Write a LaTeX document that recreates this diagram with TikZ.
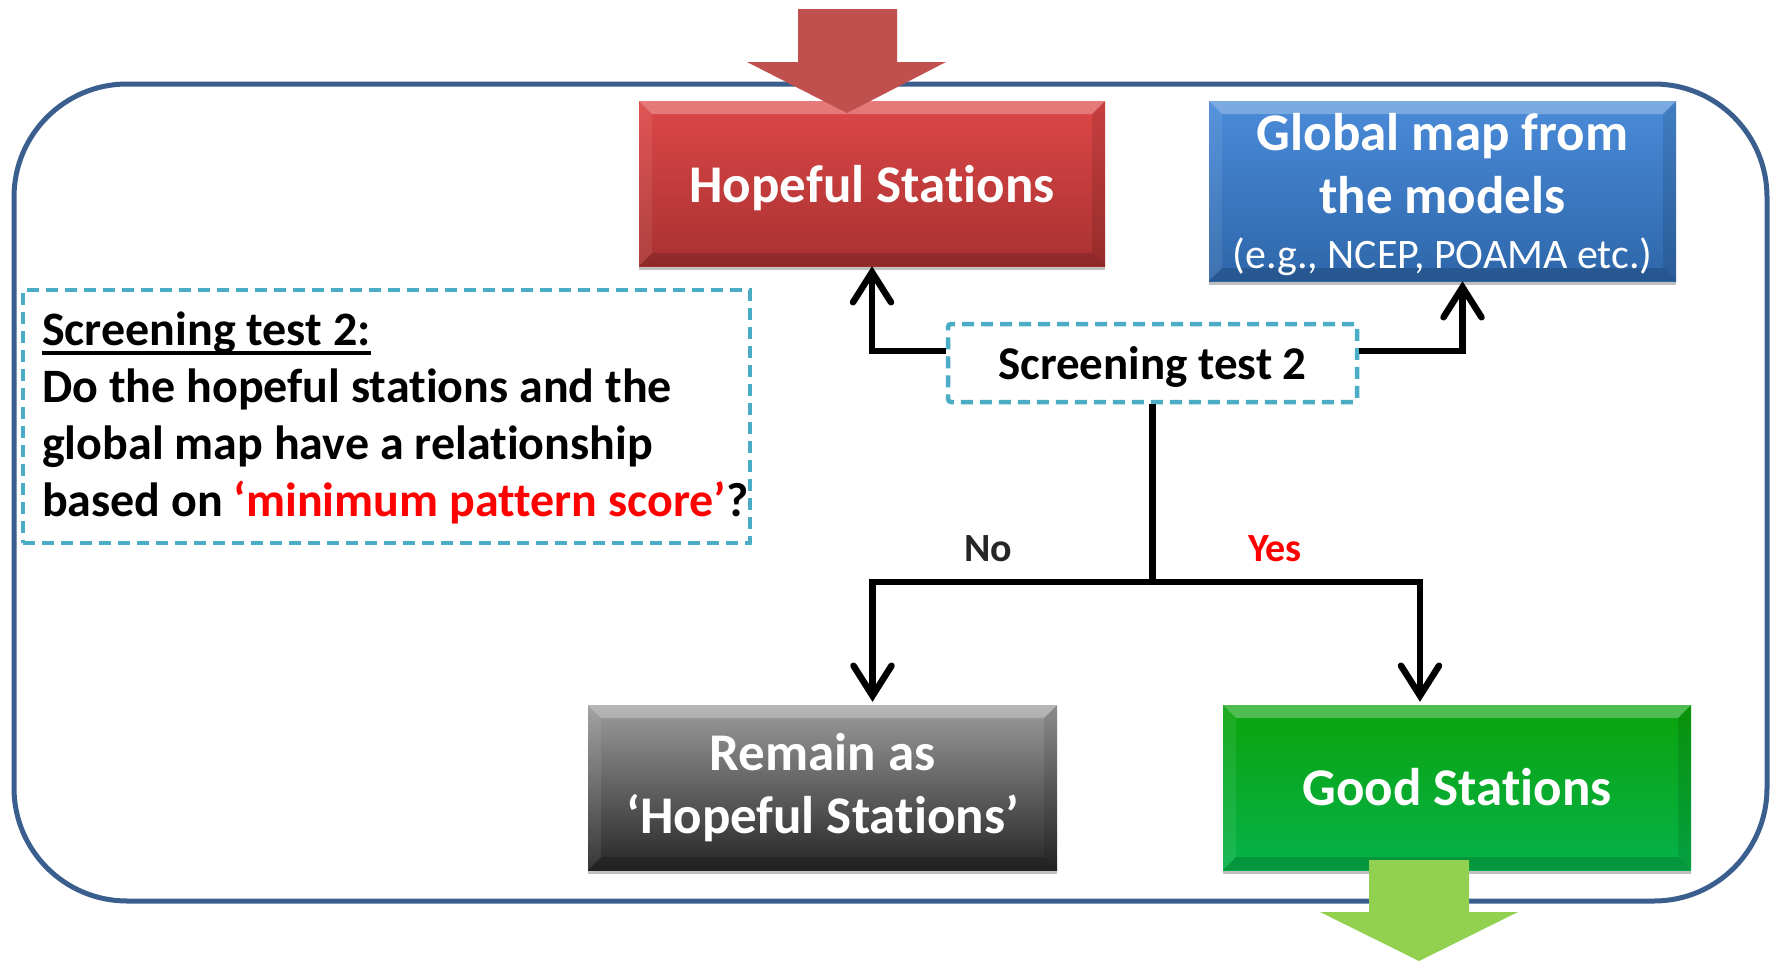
\documentclass[tikz,border=0pt]{standalone}
\usepackage{fontspec}
\setmainfont{Carlito}[Ligatures=NoCommon]
\usetikzlibrary{arrows.meta,shadows,calc}
\definecolor{frameblue}{HTML}{3A5F8E}
\definecolor{dashblue}{HTML}{4BACC6}
\definecolor{arrowred}{HTML}{C0504D}
\definecolor{arrowgreen}{HTML}{92D050}
\definecolor{redtop}{HTML}{DE4747}
\definecolor{redbot}{HTML}{A83131}
\definecolor{bluetop}{HTML}{4A8BD9}
\definecolor{bluebot}{HTML}{2E66A9}
\definecolor{graytop}{HTML}{9C9C9C}
\definecolor{graybot}{HTML}{262626}
\definecolor{greentop}{HTML}{0BA30B}
\definecolor{greenbot}{HTML}{05B24A}
\definecolor{textred}{HTML}{FF0000}
\definecolor{nogray}{HTML}{262626}
\newcommand\ulbox[1]{\setbox0\hbox{#1}\rlap{\rule[-9pt]{\wd0}{3.5pt}}\box0}
\tikzset{
  bevel/.style={path picture={
    \path (path picture bounding box.north west) coordinate (bnw)
          (path picture bounding box.south east) coordinate (bse);
    \fill[white,opacity=0.28] (bnw) -- (bnw -| bse) -- ($(bnw -| bse)+(-13pt,-13pt)$) -- ($(bnw)+(13pt,-13pt)$) -- cycle;
    \fill[black,opacity=0.15] (bse) -- (bse -| bnw) -- ($(bse -| bnw)+(13pt,13pt)$) -- ($(bse)+(-13pt,13pt)$) -- cycle;
    \fill[black,opacity=0.10] (bse) -- (bnw -| bse) -- ($(bnw -| bse)+(-13pt,-13pt)$) -- ($(bse)+(-13pt,13pt)$) -- cycle;
    \fill[white,opacity=0.08] (bnw) -- (bse -| bnw) -- ($(bse -| bnw)+(13pt,13pt)$) -- ($(bnw)+(13pt,-13pt)$) -- cycle;
  }},
  colbox/.style={bevel, inner sep=0pt, text=white, align=center,
    font=\fontsize{53}{63}\selectfont\bfseries,
    drop shadow={shadow xshift=0pt, shadow yshift=-4pt, opacity=0.25, fill=black}},
  dashbox/.style={draw=dashblue, line width=4.5pt, dash pattern=on 12pt off 7pt, rounded corners=3pt, inner sep=0pt},
  conn/.style={line width=6.5pt},
  arr/.style={conn, -{Straight Barb[length=30pt,width=38pt,line cap=round,line join=miter]}},
}
\begin{document}
\begin{tikzpicture}[x=1pt,y=-1pt]
\useasboundingbox (0,0) rectangle (1774,961);
\fill[white] (0,0) rectangle (1774,961);
% outer frame
\draw[frameblue, line width=5pt, rounded corners=113pt] (14,84) rectangle (1767,901);
% boxes
\node[colbox, top color=redtop, bottom color=redbot, minimum width=466pt, minimum height=165pt, text depth=0pt] (hs) at (872,183.5) {Hopeful Stations};
\node[colbox, top color=bluetop, bottom color=bluebot, minimum width=467pt, minimum height=180pt] (gm) at (1442.5,191) {};
\node[text=white, font=\fontsize{53}{63}\selectfont\bfseries, anchor=base, inner sep=0pt] (gm1) at (1442.5,150) {Global map from};
\node[text=white, font=\fontsize{53}{63}\selectfont\bfseries, anchor=base, inner sep=0pt] (gm2) at (1442.5,213) {the models};
\node[text=white, font=\fontsize{42}{50}\selectfont, anchor=base, inner sep=0pt] (gm3) at (1442.5,268) {(e.g., NCEP, POAMA etc.)};
\node[colbox, top color=graytop, bottom color=graybot, minimum width=469pt, minimum height=165pt] (rm) at (822.5,787.5) {Remain as\\‘Hopeful Stations’};
\node[colbox, top color=greentop, bottom color=greenbot, minimum width=468pt, minimum height=165pt] (gd) at (1457,787.5) {Good Stations};
% dashed boxes
\node[dashbox, minimum width=409pt, minimum height=78pt, text depth=0pt, font=\fontsize{47}{56}\selectfont\bfseries] (st) at (1152.5,363) {Screening test 2};
\node[dashbox, rounded corners=0pt, minimum width=727pt, minimum height=253pt] (q) at (386.5,416.5) {};
\node[anchor=west, inner sep=0pt, align=left, font=\fontsize{48}{57}\selectfont\bfseries] (qt) at (42,418)
  {\ulbox{Screening test 2:}\\Do the hopeful stations and the\\global map have a relationship\\based on \textcolor{textred}{‘minimum pattern score’}?};
% connectors
\draw[arr] ([yshift=12pt]st.west) -| (hs.south);
\draw[arr] ([yshift=12pt]st.east) -| ([xshift=20pt]gm.south);
\coordinate (j) at (1152.5,582);
\draw[conn] (st.south) -- ([yshift=-3.25pt]j);
\draw[arr, shorten >=3pt] ([xshift=-3.25pt]j) -| ([xshift=50pt]rm.north);
\draw[arr, shorten >=3pt] ([xshift=3.25pt]j) -| ([xshift=-37pt]gd.north);
\node[font=\fontsize{40}{48}\selectfont\bfseries, text=nogray] (no) at (988,549) {No};
\node[font=\fontsize{40}{48}\selectfont\bfseries, text=textred] (yes) at (1275,549) {Yes};
% big arrows
\fill[arrowred] (798,9) -- (897,9) -- (897,62) -- (946,62) -- (847,113) -- (747,62) -- (798,62) -- cycle;
\fill[arrowgreen] (1369,860) -- (1469,860) -- (1469,912) -- (1518,912) -- (1419,961) -- (1320,912) -- (1369,912) -- cycle;
\end{tikzpicture}
\end{document}
